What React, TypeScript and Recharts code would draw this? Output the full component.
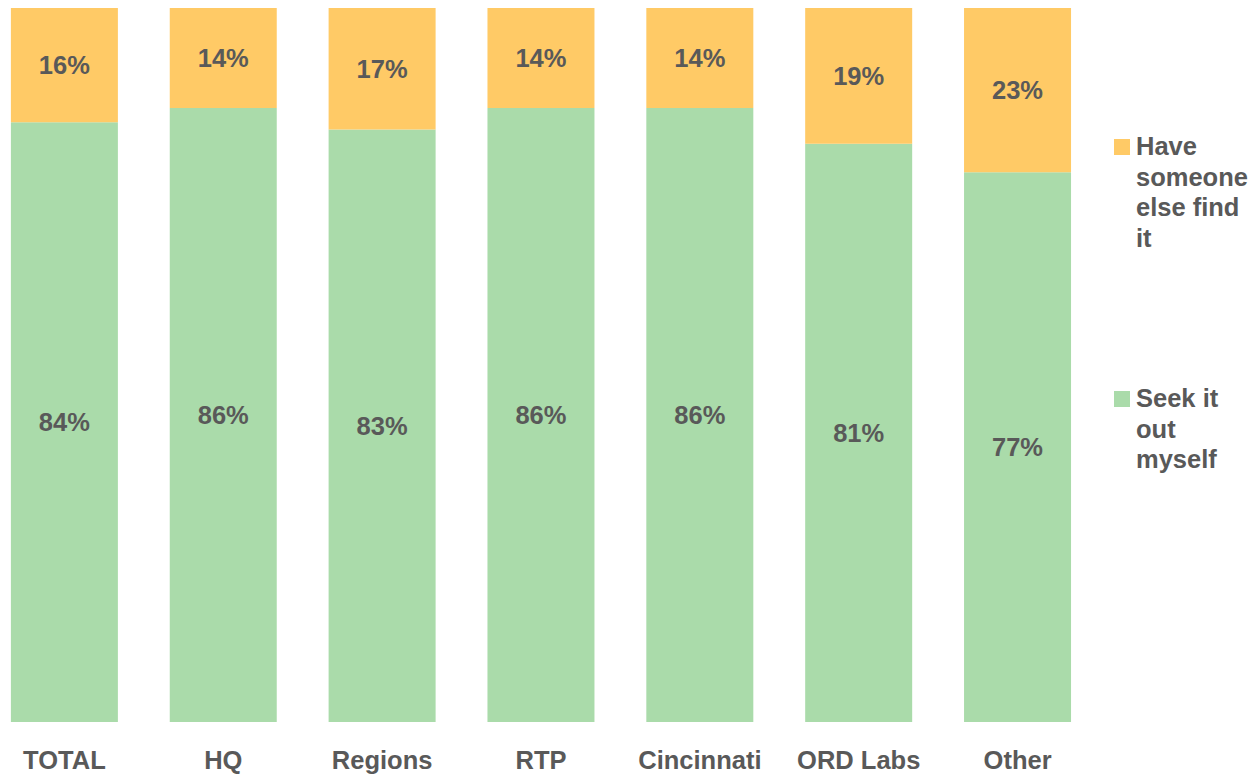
import React from 'react';
import { BarChart, Bar, XAxis, YAxis, LabelList } from 'recharts';

const categories = ['TOTAL', 'HQ', 'Regions', 'RTP', 'Cincinnati', 'ORD Labs', 'Other'];
const seekItOut = [84, 86, 83, 86, 86, 81, 77];
const someoneElse = [16, 14, 17, 14, 14, 19, 23];

const seriesNames = ['Have someone else find it', 'Seek it out myself'];
const legendLines = [['Have', 'someone', 'else find', 'it'], ['Seek it', 'out', 'myself']];

const ORANGE = '#FFCA66';
const GREEN = '#AADBAA';
const TEXT = '#595959';
const FONT = '"Liberation Sans", Arial, sans-serif';
const FS = 25.5;

const data = categories.map((name, i) => ({
    name,
    seek: seekItOut[i],
    other: someoneElse[i]
}));

const pct = (v: any) => `${v}%`;

export default function App() {
    return (
        <div style={{ position: 'absolute', left: 0, top: 0, width: 1260, height: 776, background: '#fff', fontFamily: FONT }}>
            <BarChart
                width={1260}
                height={776}
                data={data}
                margin={{ top: 8, right: 163, bottom: 0, left: -15 }}
                barCategoryGap="16.3%"
            >
                <XAxis
                    dataKey="name"
                    axisLine={false}
                    tickLine={false}
                    interval={0}
                    height={54}
                    tickMargin={23}
                    tick={{ fill: TEXT, fontSize: FS, fontWeight: 700, fontFamily: FONT }}
                />
                <YAxis hide domain={[0, 100]} />
                <Bar dataKey="seek" stackId="a" fill={GREEN} isAnimationActive={false} name={seriesNames[1]}>
                    <LabelList dataKey="seek" position="center" formatter={pct}
                        style={{ fill: TEXT, fontSize: FS, fontWeight: 700, fontFamily: FONT }} />
                </Bar>
                <Bar dataKey="other" stackId="a" fill={ORANGE} isAnimationActive={false} name={seriesNames[0]}>
                    <LabelList dataKey="other" position="center" formatter={pct}
                        style={{ fill: TEXT, fontSize: FS, fontWeight: 700, fontFamily: FONT }} />
                </Bar>
            </BarChart>

            {/* legend, drawn by hand to get the wrapped look */}
            {[0, 1].map(k => (
                <div key={k} style={{ position: 'absolute', left: 1114, top: k === 0 ? 131 : 383, display: 'flex' }}>
                    <div style={{ width: 16, height: 16, marginTop: 8, background: k === 0 ? ORANGE : GREEN }} />
                    <div style={{ marginLeft: 6, color: TEXT, fontSize: FS, fontWeight: 700, lineHeight: '30.5px' }} title={seriesNames[k]}>
                        {legendLines[k].map((l, j) => <div key={j}>{l}</div>)}
                    </div>
                </div>
            ))}
        </div>
    );
}
